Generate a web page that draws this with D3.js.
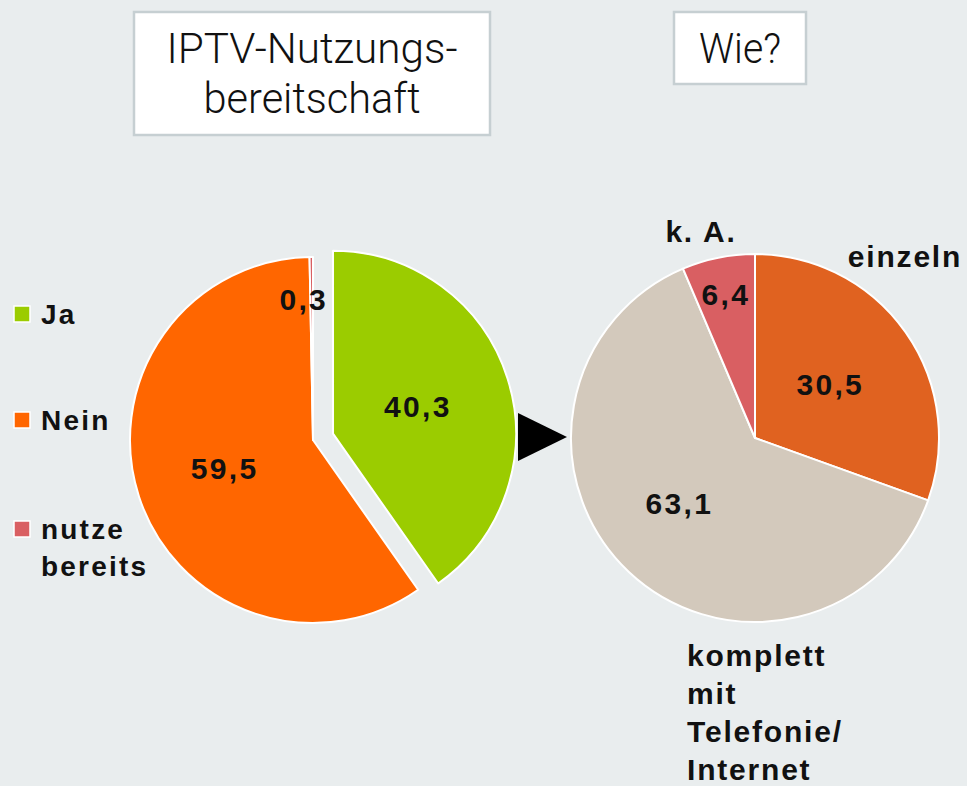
<!DOCTYPE html>
<html><head><meta charset="utf-8">
<script src="https://cdn.jsdelivr.net/npm/d3@7"></script>
<style>
html,body{margin:0;padding:0;background:#E9EDEE;}
svg{display:block;}
</style></head>
<body>
<script>
// ---- data ----
const leftCategories = ["Ja", "Nein", "nutze bereits"];
const leftValues = [40.3, 59.5, 0.3];
const leftLabels = ["40,3", "59,5", "0,3"];
const leftColors = ["#9BCC00", "#FF6600", "#D95F62"];

const rightCategories = ["einzeln", "komplett mit Telefonie/ Internet", "k. A."];
const rightValues = [30.5, 63.1, 6.4];
const rightLabels = ["30,5", "63,1", "6,4"];
const rightColors = ["#E06220", "#D3C9BC", "#D95F62"];

const titleLeft = ["IPTV-Nutzungs-", "bereitschaft"];
const titleRight = ["Wie?"];
const legendLines = [["Ja"], ["Nein"], ["nutze", "bereits"]];
const outerLabelLines = [["einzeln"], ["komplett", "mit", "Telefonie/", "Internet"], ["k. A."]];

// ---- layout ----
const W = 967, H = 786;
const svg = d3.select("body").append("svg").attr("width", W).attr("height", H);
svg.append("rect").attr("width", W).attr("height", H).attr("fill", "#E9EDEE");

const boldFont = "'Liberation Sans', Arial, sans-serif";

// title boxes
function titleBox(x, y, w, h, lines, widths) {
  svg.append("rect").attr("x", x).attr("y", y).attr("width", w).attr("height", h)
    .attr("fill", "#fff").attr("stroke", "#C6CFD2").attr("stroke-width", 2.5);
  lines.forEach((t, i) => {
    svg.append("text").attr("x", x + w / 2).attr("y", y + 51 + i * 50)
      .attr("text-anchor", "middle")
      .attr("font-family", "Roboto, 'Liberation Sans', sans-serif")
      .attr("font-weight", 300).attr("font-size", 43)
      .attr("textLength", widths[i]).attr("lengthAdjust", "spacingAndGlyphs")
      .attr("fill", "#111").text(t);
  });
}
titleBox(134, 12, 356, 123, titleLeft, [291, 217]);
titleBox(674, 12, 132, 72, titleRight, [82]);

// ---- left pie ----
const pie = d3.pie().sort(null).value(d => d).startAngle(0).endAngle(2 * Math.PI);
const rL = 183, cxL = 313, cyL = 440;
const arcL = d3.arc().innerRadius(0).outerRadius(rL);
const gL = svg.append("g").attr("transform", `translate(${cxL},${cyL})`);
const leftArcs = pie(leftValues);
const explode = [21, 0, 0];
const labelRadL = [89, 93, 140];
const labelDxL = [0, 0, -8];

leftArcs.forEach((a, i) => {
  const mid = (a.startAngle + a.endAngle) / 2;
  const ox = Math.sin(mid) * explode[i], oy = -Math.cos(mid) * explode[i];
  gL.append("path").attr("d", arcL(a)).attr("transform", `translate(${ox},${oy})`)
    .attr("fill", leftColors[i]).attr("stroke", "#fff").attr("stroke-width", 2)
    .attr("stroke-linejoin", "round");
});
leftArcs.forEach((a, i) => {
  const mid = (a.startAngle + a.endAngle) / 2;
  const ox = Math.sin(mid) * explode[i], oy = -Math.cos(mid) * explode[i];
  const lr = labelRadL[i];
  const c = d3.arc().innerRadius(lr).outerRadius(lr).centroid(a);
  gL.append("text").attr("x", c[0] + ox + labelDxL[i]).attr("y", c[1] + oy)
    .attr("text-anchor", "middle").attr("dy", "0.34em")
    .attr("font-family", boldFont).attr("font-weight", "bold").attr("font-size", 30)
    .attr("letter-spacing", 2.3).attr("fill", "#111").text(leftLabels[i]);
});

// ---- legend ----
const legendY = [314, 420, 529];
legendLines.forEach((lines, i) => {
  svg.append("rect").attr("x", 14).attr("y", legendY[i] - 8).attr("width", 16).attr("height", 16)
    .attr("fill", leftColors[i]).attr("stroke", "#fff").attr("stroke-width", 1.5);
  lines.forEach((t, j) => {
    svg.append("text").attr("x", 41).attr("y", legendY[i] + 10 + j * 37)
      .attr("font-family", boldFont).attr("font-weight", "bold").attr("font-size", 28)
      .attr("letter-spacing", 2.2).attr("fill", "#111").text(t);
  });
});

// ---- arrow ----
svg.append("path").attr("d", d3.line()([[518, 413], [567, 437], [518, 461]]) + "Z").attr("fill", "#000");

// ---- right pie ----
const rR = 184, cxR = 755, cyR = 438;
const arcR = d3.arc().innerRadius(0).outerRadius(rR);
const gR = svg.append("g").attr("transform", `translate(${cxR},${cyR})`);
const rightArcs = pie(rightValues);
const labelRadR = [92, 100, 146];
const labelAngShift = [0, 0.1, 0];

rightArcs.forEach((a, i) => {
  gR.append("path").attr("d", arcR(a)).attr("fill", rightColors[i])
    .attr("stroke", "#fff").attr("stroke-width", 2).attr("stroke-linejoin", "round");
});
rightArcs.forEach((a, i) => {
  const mid = (a.startAngle + a.endAngle) / 2 + labelAngShift[i];
  const lr = labelRadR[i];
  gR.append("text").attr("x", Math.sin(mid) * lr).attr("y", -Math.cos(mid) * lr)
    .attr("text-anchor", "middle").attr("dy", "0.34em")
    .attr("font-family", boldFont).attr("font-weight", "bold").attr("font-size", 30)
    .attr("letter-spacing", 2.3).attr("fill", "#111").text(rightLabels[i]);
});

// outer category labels (annotation placement relative to pie centre, baselines)
const outerPos = [
  { dx: 150, dy: -171, anchor: "middle" },
  { dx: -68, dy: 228, anchor: "start" },
  { dx: -54, dy: -196, anchor: "middle" }
];
outerLabelLines.forEach((lines, i) => {
  const p = outerPos[i];
  lines.forEach((t, j) => {
    gR.append("text").attr("x", p.dx).attr("y", p.dy + j * 38)
      .attr("text-anchor", p.anchor)
      .attr("font-family", boldFont).attr("font-weight", "bold").attr("font-size", 30)
      .attr("letter-spacing", 1.8).attr("fill", "#111").text(t);
  });
});
</script>
</body></html>
